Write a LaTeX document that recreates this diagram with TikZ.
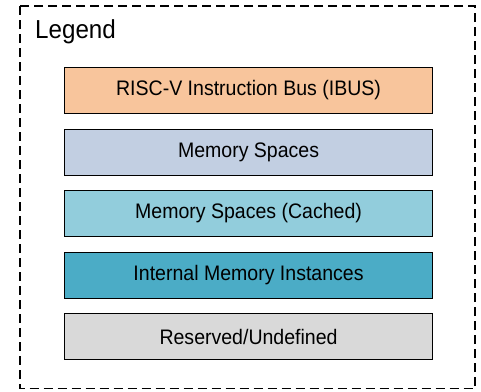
\documentclass[tikz,border=0pt]{standalone}
\usepackage{fontspec}
\setmainfont{Liberation Sans}
\definecolor{ibus}{HTML}{F8C59C}
\definecolor{memsp}{HTML}{C2CFE2}
\definecolor{memcache}{HTML}{92CDDC}
\definecolor{intmem}{HTML}{4BACC6}
\definecolor{resv}{HTML}{D9D9D9}
% narrow, tall lettering
\newcommand{\narrowtxt}[1]{\scalebox{0.93}[1]{#1}}
\begin{document}
\begin{tikzpicture}[x=1pt,y=-1pt,
  legbox/.style={draw=black, line width=1.1pt, minimum width=368pt, minimum height=46pt,
    inner sep=0pt, font=\fontsize{21}{24}\selectfont, anchor=north west},
  frame/.style={draw=black, line width=1.3pt, dash pattern=on 9pt off 5pt}]
\useasboundingbox (0,0) rectangle (481,391);
\draw[frame] (20,6) rectangle (475,388.5);
\node[anchor=base west, inner sep=0pt, font=\fontsize{26}{30}\selectfont] (title) at (35,38.3) {\narrowtxt{Legend}};
\node[legbox, fill=ibus] (ibus) at (64,67) {\narrowtxt{RISC-V Instruction Bus (IBUS)}};
\node[legbox, fill=memsp] (mem) at (64,128.5) {\narrowtxt{Memory Spaces}};
\node[legbox, fill=memcache] (memc) at (64,190) {\narrowtxt{Memory Spaces (Cached)}};
\node[legbox, fill=intmem] (imem) at (64,251.5) {\narrowtxt{Internal Memory Instances}};
\node[legbox, fill=resv] (resv) at (64,313) {\narrowtxt{Reserved/Undefined}};
\end{tikzpicture}
\end{document}
